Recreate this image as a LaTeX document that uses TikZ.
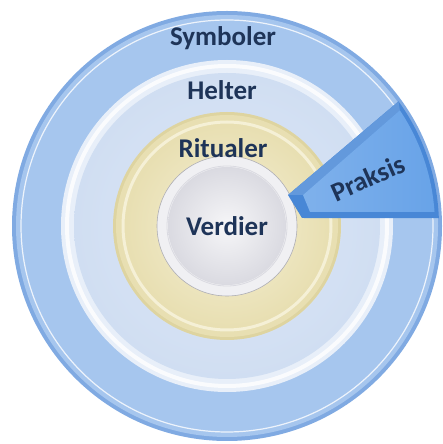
\documentclass[tikz,border=0pt]{standalone}
\usepackage{fontspec}
\setmainfont{Carlito}
\usepackage{tikz}
\usetikzlibrary{positioning,calc}
\definecolor{TextNavy}{RGB}{30,52,88}
\definecolor{SymEdge}{RGB}{128,170,226}
\definecolor{SymBand}{RGB}{166,198,238}
\definecolor{HelRim}{RGB}{232,239,249}
\definecolor{HelBand}{RGB}{208,222,242}
\definecolor{RitEdge}{RGB}{222,212,160}
\definecolor{RitBand}{RGB}{232,223,178}
\definecolor{RitRim}{RGB}{245,240,214}
\definecolor{VerRim}{RGB}{240,240,243}
\definecolor{VerCore}{RGB}{218,218,225}
\definecolor{WedgeDark}{RGB}{72,135,214}
\definecolor{WedgeFace}{RGB}{104,163,232}

\begin{document}
\begin{tikzpicture}[x=1pt, y=1pt,
    ringtext/.style={font=\fontsize{27}{30}\selectfont\bfseries, text=TextNavy, inner sep=0pt},
    rimline/.style={line width=#1, draw=white, opacity=0.8},
]
\useasboundingbox (0,0) rectangle (443,444);
\coordinate (o) at (227,218);

% Symboler
\fill[SymEdge] (o) circle (215);
\fill[SymBand] (o) circle (211);
\draw[rimline=1.2pt] (o) circle (206);
% Helter
\fill[HelRim] (o) circle (166);
\draw[rimline=4pt] (o) circle (160);
\shade[inner color=HelBand!70!white, outer color=HelBand] (o) circle (153);
% Ritualer
\fill[RitEdge] (o) circle (114);
\fill[RitBand] (o) circle (111);
\draw[RitRim, line width=3pt] (o) circle (104);
\shade[inner color=RitRim, outer color=RitBand] (o) circle (101);
% Verdier
\fill[VerRim] (o) circle (70);
\draw[VerCore!80!black, line width=0.6pt] (o) circle (70);
\draw[VerCore, line width=0.8pt] (o) circle (60);
\shade[inner color=VerRim!60!white, outer color=VerCore] (o) circle (59);

% Praksis
\coordinate (pa) at ($(o)+(61,31)$);
\coordinate (pd) at ($(o)+(75,8)$);
\coordinate (fa) at ($(o)+(76,31)$);
\coordinate (fd) at ($(o)+(83,14)$);
\fill[WedgeDark] (pa) -- ($(o)+(36:212)$) arc[start angle=36, end angle=2.1, radius=212] -- (pd) -- cycle;
\fill[WedgeDark!85!white] (pa) -- ($(o)+(36:212)$) -- ($(o)+(33.8:208)$) -- (fa) -- cycle;
\shade[left color=WedgeFace!85!white, right color=WedgeFace]
    (fa) -- ($(o)+(33.8:208)$) arc[start angle=33.8, end angle=3.9, radius=208] -- (fd) -- cycle;

\node[ringtext] (symboler) at (223,406) {Symboler};
\node[ringtext] (helter) at (222,354) {Helter};
\node[ringtext] (ritualer) at (223,296) {Ritualer};
\node[ringtext] (verdier) at (o) {Verdier};
\node[ringtext, rotate=24] (praksis) at (368,266) {Praksis};
\end{tikzpicture}
\end{document}
